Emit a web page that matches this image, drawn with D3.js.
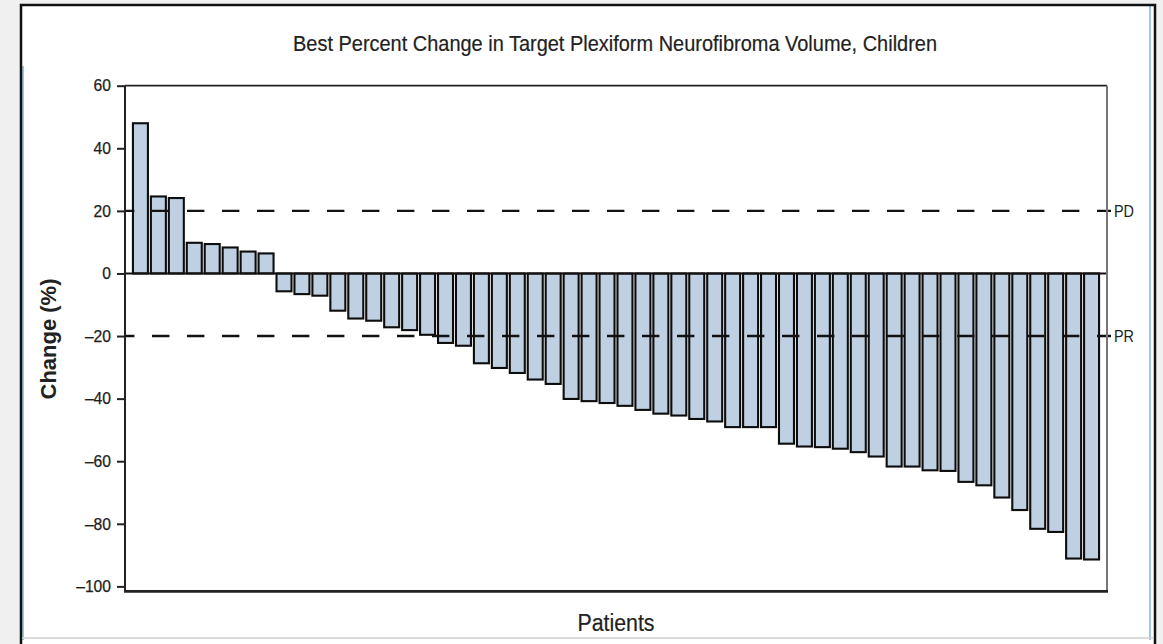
<!DOCTYPE html>
<html>
<head>
<meta charset="utf-8">
<script src="https://cdn.jsdelivr.net/npm/d3@7"></script>
<style>
  html, body { margin: 0; padding: 0; background: #f0f0f0; }
  svg { display: block; }
  text { font-family: "Liberation Sans", Arial, Helvetica, sans-serif; fill: #222; }
</style>
</head>
<body>
<svg id="chart" width="1163" height="644"></svg>
<script>
// Best percent change per patient, sorted from largest growth to largest shrinkage
const patientChange = [
  48.0, 24.6, 24.1, 9.8, 9.4, 8.3, 7.0, 6.4,
  -5.7, -6.6, -7.1, -11.9, -14.4, -15.1, -17.2, -18.1, -19.6, -22.2, -23.1,
  -28.7, -30.2, -31.8, -33.9, -35.3, -40.1, -40.8, -41.4, -42.3, -43.6,
  -44.8, -45.4, -46.5, -47.3, -49.1, -49.1, -49.1, -54.4, -55.3, -55.5,
  -56.0, -57.1, -58.5, -61.7, -61.7, -62.9, -63.1, -66.6, -67.7, -71.6,
  -75.6, -81.6, -82.6, -91.1, -91.4
];
const yTicks = [60, 40, 20, 0, -20, -40, -60, -80, -100];
// Response thresholds: progressive disease and partial response
const thresholdValues = [20, -20];
const thresholdLabels = ["PD", "PR"];

const svg = d3.select("#chart");

// Page frame
svg.append("rect").attr("x", 20).attr("y", 4).attr("width", 1136).attr("height", 640).attr("fill", "#fff");
svg.append("line").attr("x1", 23).attr("x2", 23).attr("y1", 66).attr("y2", 640).attr("stroke", "#9cc8e4").attr("stroke-width", 2);
svg.append("line").attr("x1", 1150).attr("x2", 1150).attr("y1", 6).attr("y2", 640).attr("stroke", "#9cc8e4").attr("stroke-width", 2);
svg.append("path").attr("d", "M21,644 V5 H1155 V644").attr("fill", "none").attr("stroke", "#111").attr("stroke-width", 2.5);
svg.append("line").attr("x1", 22).attr("x2", 1154).attr("y1", 638).attr("y2", 638).attr("stroke", "#cfcfcf").attr("stroke-width", 1.5);

const plotLeft = 125, plotRight = 1107, plotTop = 85.7, plotBottom = 591.4;

const x = d3.scaleBand()
  .domain(d3.range(patientChange.length))
  .range([plotLeft, plotRight])
  .paddingInner(0.165)
  .paddingOuter(0.4425);

const y = d3.scaleLinear().domain([-101.6, 60]).range([plotBottom, plotTop]);

// Bars
svg.append("g")
  .selectAll("rect")
  .data(patientChange)
  .join("rect")
  .attr("x", (d, i) => x(i))
  .attr("width", x.bandwidth())
  .attr("y", d => y(Math.max(0, d)))
  .attr("height", d => Math.abs(y(d) - y(0)))
  .attr("fill", "#bfd0e2")
  .attr("stroke", "#0d0d0d")
  .attr("stroke-width", 2.1);

// Zero baseline
svg.append("line")
  .attr("x1", plotLeft).attr("x2", plotRight)
  .attr("y1", y(0)).attr("y2", y(0))
  .attr("stroke", "#111").attr("stroke-width", 2);

// Threshold dashed lines drawn over the bars
const thr = svg.append("g");
thr.selectAll("line")
  .data(thresholdValues)
  .join("line")
  .attr("x1", plotLeft).attr("x2", plotRight + 4)
  .attr("y1", d => y(d)).attr("y2", d => y(d))
  .attr("stroke", "#111")
  .attr("stroke-width", 2.4)
  .attr("stroke-dasharray", "17.4,17.6")
  .attr("stroke-dashoffset", 8);
thr.selectAll("text")
  .data(thresholdValues)
  .join("text")
  .attr("x", plotRight + 7)
  .attr("y", d => y(d))
  .attr("dy", "0.36em")
  .attr("font-size", 17)
  .attr("textLength", 20)
  .attr("lengthAdjust", "spacingAndGlyphs")
  .text((d, i) => thresholdLabels[i]);

// Plot box: top, right and bottom edges
svg.append("line").attr("x1", plotLeft).attr("x2", plotRight).attr("y1", plotTop).attr("y2", plotTop)
  .attr("stroke", "#222").attr("stroke-width", 1.8);
svg.append("line").attr("x1", plotRight).attr("x2", plotRight).attr("y1", plotTop).attr("y2", plotBottom)
  .attr("stroke", "#777").attr("stroke-width", 2);
svg.append("line").attr("x1", plotLeft - 1).attr("x2", plotRight + 1).attr("y1", plotBottom).attr("y2", plotBottom)
  .attr("stroke", "#222").attr("stroke-width", 2.6);

// Y axis
const yAxis = d3.axisLeft(y)
  .tickValues(yTicks)
  .tickSize(8)
  .tickPadding(6)
  .tickFormat(d => d < 0 ? "\u2013" + Math.abs(d) : String(d));
const yg = svg.append("g").attr("transform", `translate(${plotLeft},0)`).call(yAxis);
yg.select(".domain").attr("d", `M0,${plotTop}V${plotBottom}`).attr("stroke", "#222").attr("stroke-width", 2);
yg.selectAll(".tick line").attr("stroke", "#222").attr("stroke-width", 2);
yg.selectAll(".tick text")
  .attr("font-family", '"Liberation Sans", Arial, sans-serif')
  .attr("font-size", 16.5)
  .attr("fill", "#1a1a1a")
  .attr("stroke", "#1a1a1a")
  .attr("stroke-width", 0.25)
  .attr("textLength", d => (String(Math.abs(d)).length + (d < 0 ? 1 : 0)) * 8.7)
  .attr("lengthAdjust", "spacingAndGlyphs");

// Titles
svg.append("text")
  .attr("x", 615).attr("y", 51)
  .attr("text-anchor", "middle")
  .attr("font-size", 21.5)
  .attr("fill", "#1e1e1e")
  .attr("stroke", "#1e1e1e")
  .attr("stroke-width", 0.2)
  .attr("textLength", 644)
  .attr("lengthAdjust", "spacingAndGlyphs")
  .text("Best Percent Change in Target Plexiform Neurofibroma Volume, Children");

svg.append("text")
  .attr("transform", "translate(56,339) rotate(-90)")
  .attr("text-anchor", "middle")
  .attr("font-size", 21.5)
  .attr("font-weight", "bold")
  .attr("fill", "#333")
  .attr("textLength", 121)
  .attr("lengthAdjust", "spacingAndGlyphs")
  .text("Change (%)");

svg.append("text")
  .attr("x", 616).attr("y", 631)
  .attr("text-anchor", "middle")
  .attr("font-size", 23)
  .attr("fill", "#1e1e1e")
  .attr("stroke", "#1e1e1e")
  .attr("stroke-width", 0.2)
  .attr("textLength", 77)
  .attr("lengthAdjust", "spacingAndGlyphs")
  .text("Patients");
</script>
</body>
</html>
